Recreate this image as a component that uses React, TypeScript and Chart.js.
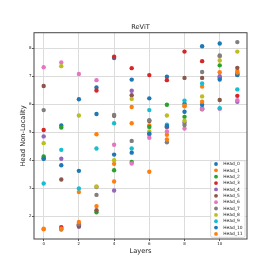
import React, { useEffect, useRef } from "react";
import { Chart, registerables } from "chart.js";

Chart.register(...registerables);

const FONT = "DejaVu Sans";

const layers = [0, 1, 2, 3, 4, 5, 6, 7, 8, 9, 10, 11];
const headNames = ["Head_0", "Head_1", "Head_2", "Head_3", "Head_4", "Head_5", "Head_6", "Head_7", "Head_8", "Head_9", "Head_10", "Head_11"];
const headColors = ["#1f77b4", "#ff7f0e", "#2ca02c", "#d62728", "#9467bd", "#8c564b", "#e377c2", "#7f7f7f", "#bcbd22", "#17becf", "#1f77b4", "#ff7f0e"];

const head0 = [4.06, 5.24, 6.18, 6.6, 7.65, 6.88, 6.21, 6.98, 6.02, 8.07, 8.17, 7.04];
const head1 = [1.53, 1.56, 2.86, 4.93, 3.87, 5.9, 5.24, 4.91, 5.93, 6.63, 7.71, 7.19];
const head2 = [4.13, 5.17, 1.68, 2.14, 3.64, 3.94, 5.19, 5.98, 5.55, 5.82, 7.39, 7.1];
const head3 = [5.08, 1.61, 1.7, 6.49, 7.7, 7.29, 7.04, 6.86, 7.88, 7.54, 6.95, 6.3];
const head4 = [4.85, 4.05, 1.62, 3.04, 2.92, 6.48, 4.92, 5.18, 5.35, 5.86, 7.0, 6.09];
const head5 = [6.65, 3.31, 1.65, 2.21, 5.59, 6.32, 5.4, 5.2, 6.94, 6.94, 6.15, 7.3];
const head6 = [7.32, 7.49, 7.08, 6.86, 4.55, 3.88, 4.8, 5.03, 5.13, 5.83, 5.84, 6.14];
const head7 = [5.79, 1.52, 1.72, 2.76, 5.62, 4.69, 5.43, 4.64, 5.26, 7.15, 7.74, 8.22];
const head8 = [4.61, 7.36, 5.6, 3.06, 4.0, 6.19, 5.03, 5.6, 5.41, 6.28, 7.56, 7.88];
const head9 = [3.17, 4.37, 2.99, 4.42, 5.32, 4.42, 5.79, 5.27, 6.13, 6.74, 5.86, 6.53];
const head10 = [4.05, 3.82, 3.62, 5.65, 4.2, 4.27, 4.95, 5.22, 5.73, 5.98, 6.88, 7.05];
const head11 = [1.55, 1.55, 1.79, 2.36, 3.24, 5.32, 3.59, 4.74, 5.95, 6.09, 7.14, 7.13];

const xTicks = [0, 2, 4, 6, 8, 10];
const yTicks = [2, 3, 4, 5, 6, 7, 8];

const framePlugin = {
  id: "frame",
  afterDatasetsDraw(chart: any) {
    const { ctx, chartArea } = chart;
    ctx.save();
    ctx.strokeStyle = "#444";
    ctx.lineWidth = 1;
    ctx.strokeRect(chartArea.left, chartArea.top, chartArea.right - chartArea.left, chartArea.bottom - chartArea.top);
    ctx.restore();
  },
};

const legendPlugin = {
  id: "innerLegend",
  afterDraw(chart: any) {
    const { ctx, chartArea } = chart;
    const ds = chart.data.datasets;
    const boxW = 34.3;
    const boxH = 76.6;
    const x0 = chartArea.right - 2 - boxW;
    const y0 = chartArea.bottom - 1.7 - boxH;
    const rowH = 6.36;
    ctx.save();
    ctx.beginPath();
    const r = 1.5;
    ctx.moveTo(x0 + r, y0);
    ctx.lineTo(x0 + boxW - r, y0);
    ctx.quadraticCurveTo(x0 + boxW, y0, x0 + boxW, y0 + r);
    ctx.lineTo(x0 + boxW, y0 + boxH - r);
    ctx.quadraticCurveTo(x0 + boxW, y0 + boxH, x0 + boxW - r, y0 + boxH);
    ctx.lineTo(x0 + r, y0 + boxH);
    ctx.quadraticCurveTo(x0, y0 + boxH, x0, y0 + boxH - r);
    ctx.lineTo(x0, y0 + r);
    ctx.quadraticCurveTo(x0, y0, x0 + r, y0);
    ctx.closePath();
    ctx.fillStyle = "rgba(255,255,255,0.85)";
    ctx.fill();
    ctx.strokeStyle = "#d0d0d0";
    ctx.lineWidth = 0.8;
    ctx.stroke();
    ctx.font = `4.4px "${FONT}"`;
    ctx.textBaseline = "middle";
    ctx.textAlign = "left";
    ds.forEach((d: any, i: number) => {
      const cy = y0 + 3.3 + i * rowH;
      ctx.beginPath();
      ctx.arc(x0 + 5.3, cy, 1.9, 0, Math.PI * 2);
      ctx.fillStyle = d.backgroundColor;
      ctx.fill();
      ctx.fillStyle = "#222";
      ctx.fillText(d.label, x0 + 12.6, cy);
    });
    ctx.restore();
  },
};

export default function App() {
  const ref = useRef<HTMLCanvasElement>(null);
  useEffect(() => {
    const heads = [head0, head1, head2, head3, head4, head5, head6, head7, head8, head9, head10, head11];
    const chart = new Chart(ref.current as HTMLCanvasElement, {
      type: "scatter",
      data: {
        datasets: heads.map((vals, i) => ({
          label: headNames[i],
          data: layers.map((l, j) => ({ x: l, y: vals[j] })),
          backgroundColor: headColors[i],
          borderColor: headColors[i],
          borderWidth: 0,
          pointRadius: 2.2,
          pointHoverRadius: 2.2,
          order: heads.length - i,
        })),
      },
      options: {
        animation: false,
        responsive: false,
        devicePixelRatio: 1,
        layout: { padding: { left: 0, right: 27, top: 0, bottom: 0 } },
        plugins: {
          legend: { display: false },
          tooltip: { enabled: false },
          title: {
            display: true,
            text: "ReViT",
            fullSize: false,
            color: "#222",
            font: { family: FONT, size: 6.6, weight: "normal" },
            padding: { top: 23.5, bottom: 1.3 },
          },
        },
        scales: {
          x: {
            type: "linear",
            min: -0.55,
            max: 11.55,
            afterBuildTicks: (ax: any) => {
              ax.ticks = xTicks.map((v) => ({ value: v }));
            },
            afterFit: (s: any) => {
              s.height = 35;
              s.paddingLeft = 0;
              s.paddingRight = 0;
            },
            grid: { color: "#dcdcdc", lineWidth: 1, drawTicks: true, tickLength: 2, tickColor: "#333", tickWidth: 0.8 },
            border: { display: false },
            ticks: { font: { family: FONT, size: 4 }, color: "#222", padding: 1, maxRotation: 0, autoSkip: false },
            title: { display: true, text: "Layers", color: "#222", font: { family: FONT, size: 6.7 }, padding: { top: 0, bottom: 18.5 } },
          },
          y: {
            type: "linear",
            min: 1.185,
            max: 8.555,
            afterBuildTicks: (ax: any) => {
              ax.ticks = yTicks.map((v) => ({ value: v }));
            },
            afterFit: (s: any) => {
              s.width = 34;
              s.paddingTop = 0;
              s.paddingBottom = 0;
            },
            grid: { color: "#dcdcdc", lineWidth: 1, drawTicks: true, tickLength: 2, tickColor: "#333", tickWidth: 0.8 },
            border: { display: false },
            ticks: { font: { family: FONT, size: 4 }, color: "#222", padding: 0.5, autoSkip: false },
            title: { display: true, text: "Head Non-Locality", color: "#222", font: { family: FONT, size: 6.7 }, padding: { top: 19.3, bottom: 0 } },
          },
        },
      } as any,
      plugins: [framePlugin, legendPlugin],
    });
    return () => chart.destroy();
  }, []);
  return (
    <div style={{ position: "absolute", left: 0, top: 0, width: 274, height: 274, background: "#fff" }}>
      <canvas ref={ref} width={274} height={274} style={{ display: "block", width: 274, height: 274 }} />
    </div>
  );
}
